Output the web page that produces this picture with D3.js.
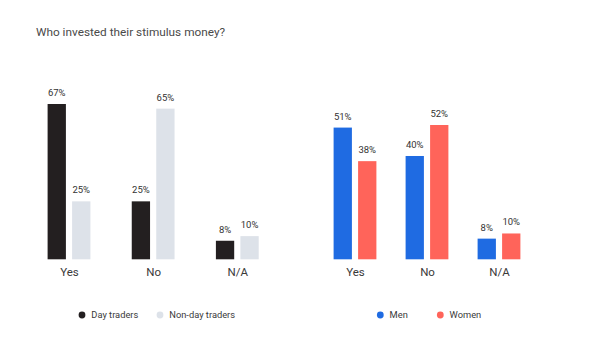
<!DOCTYPE html>
<html>
<head>
<meta charset="utf-8">
<script src="https://cdn.jsdelivr.net/npm/d3@7"></script>
<style>
  html, body { margin: 0; padding: 0; background: #fff; }
  svg { display: block; font-family: "Roboto", "Inter", sans-serif; }
</style>
</head>
<body>
<svg id="chart" width="600" height="348"></svg>
<script>
const title = "Who invested their stimulus money?";
const categories = ["Yes", "No", "N/A"];

const leftSeries = ["Day traders", "Non-day traders"];
const dayTraders = [67, 25, 8];
const nonDayTraders = [25, 65, 10];
const leftColors = ["#231f20", "#dde2e9"];

const rightSeries = ["Men", "Women"];
const men = [51, 40, 8];
const women = [38, 52, 10];
const rightColors = ["#1f6be2", "#ff645a"];

const svg = d3.select("#chart");

svg.append("text")
  .attr("x", 36).attr("y", 35.5)
  .attr("font-size", 11.8)
  .attr("fill", "#4a4a4a")
  .text(title);

function drawPanel(cfg) {
  const g = svg.append("g");
  const x = d3.scalePoint().domain(categories).range(cfg.xRange);
  const inner = d3.scaleBand().domain(cfg.series).range([-21.4, 21.4]).paddingInner(0.253);
  const allVals = cfg.values.flat();
  const y = d3.scaleLinear().domain([0, d3.max(allVals)]).range([259.3, cfg.topY]);

  const rows = categories.map((c, i) => ({
    cat: c,
    vals: cfg.series.map((s, j) => ({ s, v: cfg.values[j][i], color: cfg.colors[j] }))
  }));

  const grp = g.selectAll("g.grp").data(rows).join("g")
    .attr("transform", d => `translate(${x(d.cat)},0)`);

  grp.selectAll("rect").data(d => d.vals).join("rect")
    .attr("x", d => inner(d.s))
    .attr("width", inner.bandwidth())
    .attr("y", d => y(d.v))
    .attr("height", d => y(0) - y(d.v))
    .attr("fill", d => d.color);

  grp.selectAll("text.val").data(d => d.vals).join("text")
    .attr("class", "val")
    .attr("x", d => inner(d.s) + inner.bandwidth() / 2)
    .attr("y", d => y(d.v) - 8)
    .attr("text-anchor", "middle")
    .attr("font-size", 9.5)
    .attr("fill", "#333")
    .text(d => d.v + "%");

  // category axis labels
  const axis = d3.axisBottom(x).tickSize(0).tickPadding(0);
  const ax = g.append("g").attr("transform", "translate(0,268)").call(axis);
  ax.select(".domain").remove();
  ax.selectAll("text")
    .attr("font-family", "Roboto, Inter, sans-serif")
    .attr("font-size", 11.5)
    .attr("fill", "#3a3a3a")
    .attr("dy", "0.71em");

  // legend
  const lg = g.append("g").attr("transform", "translate(0,315)");
  const items = lg.selectAll("g").data(cfg.series.map((s, j) => ({ s, color: cfg.colors[j], x: cfg.legendX[j] })))
    .join("g").attr("transform", d => `translate(${d.x},0)`);
  items.append("circle").attr("r", 3.4).attr("fill", d => d.color);
  items.append("text")
    .attr("x", 9.3).attr("dy", "0.35em")
    .attr("font-size", 9.3)
    .attr("fill", "#3a3a3a")
    .text(d => d.s);
}

drawPanel({
  series: leftSeries,
  values: [dayTraders, nonDayTraders],
  colors: leftColors,
  xRange: [69, 237.3],
  topY: 104,
  legendX: [82, 160]
});

drawPanel({
  series: rightSeries,
  values: [men, women],
  colors: rightColors,
  xRange: [355, 499],
  topY: 125,
  legendX: [380.3, 440.3]
});
</script>
</body>
</html>
